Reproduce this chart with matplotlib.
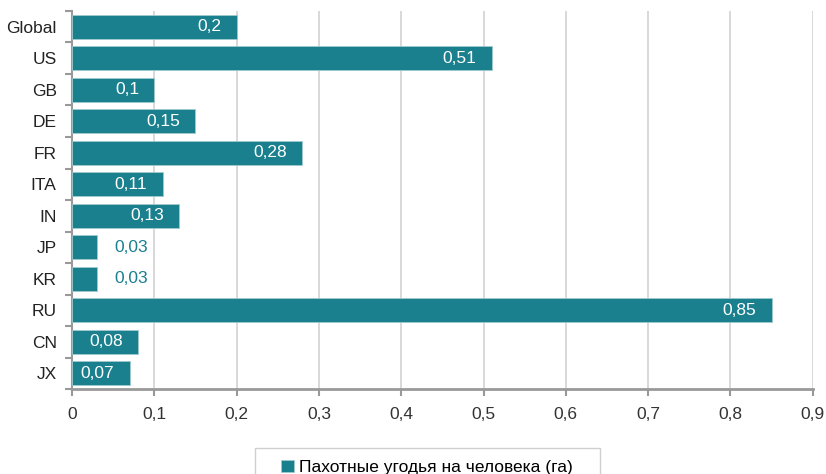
import matplotlib
matplotlib.use("Agg")
import matplotlib.pyplot as plt
from matplotlib.patches import Rectangle
from matplotlib.ticker import FixedLocator

# data
countries = ["Global", "US", "GB", "DE", "FR", "ITA", "IN", "JP", "KR", "RU", "CN", "JX"]
land_per_person = [0.2, 0.51, 0.1, 0.15, 0.28, 0.11, 0.13, 0.03, 0.03, 0.85, 0.08, 0.07]
value_labels = ["0,2", "0,51", "0,1", "0,15", "0,28", "0,11", "0,13", "0,03", "0,03", "0,85", "0,08", "0,07"]
x_ticks = [0, 0.1, 0.2, 0.3, 0.4, 0.5, 0.6, 0.7, 0.8, 0.9]
x_tick_labels = ["0", "0,1", "0,2", "0,3", "0,4", "0,5", "0,6", "0,7", "0,8", "0,9"]
series_name = "Пахотные угодья на человека (га)"

teal = "#1a808e"
plt.rcParams["font.family"] = ["Liberation Sans Narrow", "Liberation Sans", "DejaVu Sans"]

fig = plt.figure(figsize=(8.26, 4.74), dpi=100)
ax = fig.add_axes([0.0872, 0.179, 0.984 - 0.0872, 0.977 - 0.179])

ypos = list(range(len(countries)))
bars = ax.barh(ypos, land_per_person, height=0.76, color=teal,
               edgecolor="#9fc9cf", linewidth=0.6, label=series_name, zorder=3)

ax.set_xlim(0, 0.9)
ax.set_ylim(len(countries) - 0.5, -0.5)

ax.set_xticks(x_ticks)
ax.set_xticklabels(x_tick_labels, fontsize=12.5, color="#333333")
ax.set_yticks(ypos)
ax.set_yticklabels(countries, fontsize=12.5, color="#222222")
ax.yaxis.set_minor_locator(FixedLocator([k - 0.5 for k in range(len(countries) + 1)]))

ax.tick_params(axis="y", which="major", length=0, pad=11)
ax.tick_params(axis="y", which="minor", length=5, width=1.5, color="#999999")
ax.tick_params(axis="x", which="major", length=5, width=1.5, color="#999999", pad=8)

ax.grid(axis="x", color="#d6d6d6", linewidth=1.3, zorder=0)
ax.set_axisbelow(True)
for s in ["top", "right"]:
    ax.spines[s].set_visible(False)
ax.spines["left"].set_color("#999999")
ax.spines["left"].set_linewidth(1.5)
ax.spines["bottom"].set_color("#999999")
ax.spines["bottom"].set_linewidth(2)

# value labels: inside end in white, outside in teal for short bars
for y, v, lab in zip(ypos, land_per_person, value_labels):
    if v < 0.05:
        ax.annotate(lab, (v, y), xytext=(13, 0), textcoords="offset points",
                    ha="left", va="center", fontsize=12.5, color=teal)
    else:
        ax.annotate(lab, (v, y), xytext=(-11, 0), textcoords="offset points",
                    ha="right", va="center", fontsize=12.5, color="white")

# legend without its own frame; a wider box drawn behind it, cut by the bottom edge
leg = fig.legend(loc="upper center", bbox_to_anchor=(0.517, 0.057), frameon=False,
                 fontsize=12.5, handlelength=0.7, handleheight=0.7,
                 handletextpad=0.3, borderpad=0.25)
fig.patches.append(Rectangle((255 / 826, -0.02), 345 / 826, 0.02 + 26 / 474,
                             transform=fig.transFigure, fill=False,
                             edgecolor="#cfcfcf", linewidth=1))

fig.savefig("out.png", dpi=100)
